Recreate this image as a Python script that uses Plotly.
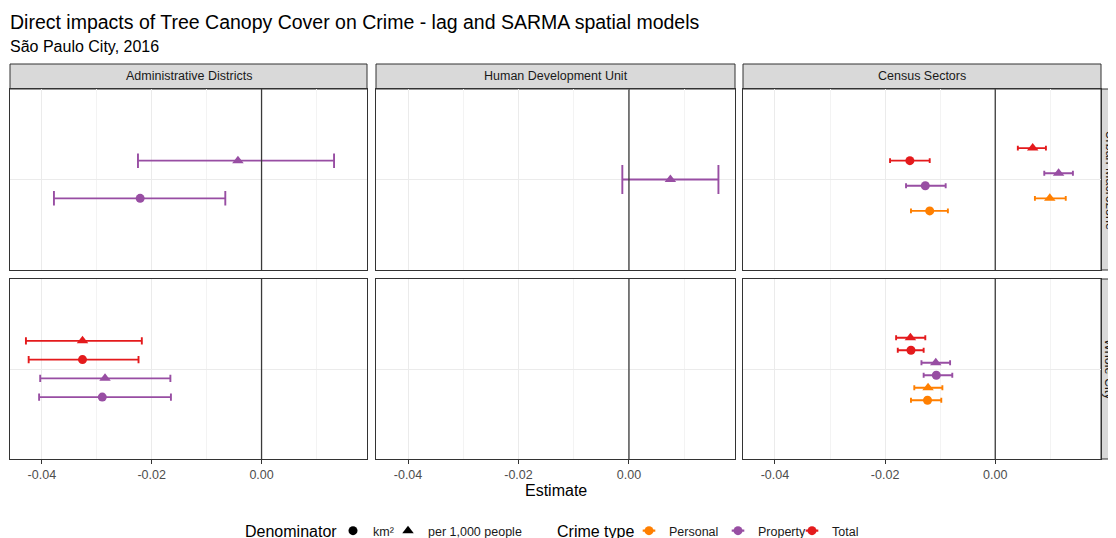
import plotly.graph_objects as go

OFF = 8  # page body margin in which the figure is placed
W, H = 1116, 538

# ---------------- data ----------------
scales = ["Administrative Districts", "Human Development Unit", "Census Sectors"]
zones = ["Urban Macrozone", "Whole City"]
crime_types = ["Personal", "Property", "Total"]
denominators = ["km²", "per 1,000 people"]

row_scale = ["Administrative Districts", "Administrative Districts",
             "Human Development Unit",
             "Census Sectors", "Census Sectors", "Census Sectors",
             "Census Sectors", "Census Sectors", "Census Sectors",
             "Administrative Districts", "Administrative Districts",
             "Administrative Districts", "Administrative Districts",
             "Census Sectors", "Census Sectors", "Census Sectors",
             "Census Sectors", "Census Sectors", "Census Sectors"]
row_zone = ["Urban Macrozone"] * 9 + ["Whole City"] * 10
row_crime = ["Property", "Property",
             "Property",
             "Personal", "Personal", "Property", "Property", "Total", "Total",
             "Property", "Property", "Total", "Total",
             "Personal", "Personal", "Property", "Property", "Total", "Total"]
row_denom = ["km²", "per 1,000 people",
             "per 1,000 people",
             "km²", "per 1,000 people", "km²", "per 1,000 people", "km²", "per 1,000 people",
             "km²", "per 1,000 people", "km²", "per 1,000 people",
             "km²", "per 1,000 people", "km²", "per 1,000 people", "km²", "per 1,000 people"]
estimate = [-0.0221, -0.0043,
            0.0075,
            -0.0119, 0.0099, -0.0127, 0.0115, -0.0155, 0.0068,
            -0.0290, -0.0285, -0.0326, -0.0326,
            -0.0123, -0.0122, -0.0107, -0.0108, -0.0153, -0.0154]
lower = [-0.0378, -0.0225,
         -0.0012,
         -0.0153, 0.0072, -0.0162, 0.0089, -0.0191, 0.0041,
         -0.0405, -0.0403, -0.0424, -0.0429,
         -0.0153, -0.0147, -0.0130, -0.0134, -0.0177, -0.0180]
upper = [-0.0066, 0.0132,
         0.0162,
         -0.0086, 0.0128, -0.0090, 0.0141, -0.0119, 0.0092,
         -0.0165, -0.0166, -0.0224, -0.0218,
         -0.0098, -0.0096, -0.0078, -0.0082, -0.0130, -0.0127]

x_ticks = [-0.04, -0.02, 0.00]
x_tick_text = ["-0.04", "-0.02", "0.00"]
x_minor = [-0.03, -0.01, 0.01]

colors = {"Personal": "#FF7F00", "Property": "#984EA3", "Total": "#E41A1C"}
symbols = {"km²": "circle", "per 1,000 people": "triangle-up"}
msize = {"km²": 9, "per 1,000 people": 10}

FONT = "Liberation Sans, Arial, sans-serif"

# ---------------- layout geometry (page pixels) ----------------
cols_px = [(10, 367), (376, 735), (743, 1101)]
rows_px = [(89, 270), (279, 459)]
strip_top = 64
strip_right = (1101, 1125)
strip_right_text_x = 1109

def px_x(p):
    return (p - OFF) / W

def px_y(p):
    return 1 - (p - OFF) / H

fig = go.Figure()
layout = dict(
    width=W, height=H, margin=dict(l=0, r=0, t=0, b=0),
    plot_bgcolor="white", paper_bgcolor="white",
    font=dict(family=FONT, color="#1A1A1A"),
    shapes=[], annotations=[],
)

xrange = [-0.0458, 0.0192]
dodge_w = 0.5

for ri, zone in enumerate(zones):
    for ci, sc in enumerate(scales):
        k = ri * 3 + ci + 1
        xa = "x" if k == 1 else f"x{k}"
        ya = "y" if k == 1 else f"y{k}"
        xl = "xaxis" if k == 1 else f"xaxis{k}"
        yl = "yaxis" if k == 1 else f"yaxis{k}"
        x0, x1 = cols_px[ci]
        y0, y1 = rows_px[ri]
        bottom = ri == 1
        layout[xl] = dict(
            domain=[px_x(x0), px_x(x1)], anchor=ya, range=xrange,
            tickvals=x_ticks, ticktext=x_tick_text,
            showticklabels=bottom, ticks="outside" if bottom else "",
            ticklen=4, tickwidth=1, tickcolor="#333333",
            tickfont=dict(size=12.5, color="#4D4D4D", family=FONT),
            showgrid=True, gridcolor="#EBEBEB", gridwidth=1,
            minor=dict(tickvals=x_minor, showgrid=True, gridcolor="#F3F3F3", gridwidth=1, ticks=""),
            showline=True, mirror=True, linecolor="#333333", linewidth=1,
            zeroline=False, fixedrange=True,
        )
        layout[yl] = dict(
            domain=[px_y(y1), px_y(y0)], anchor=xa, range=[0.4, 1.6],
            tickvals=[1], showticklabels=False, ticks="",
            showgrid=True, gridcolor="#EBEBEB", gridwidth=1,
            showline=True, mirror=True, linecolor="#333333", linewidth=1,
            zeroline=False, fixedrange=True,
        )
        # vertical reference line at 0
        layout["shapes"].append(dict(
            type="line", xref=xa, yref=f"{ya} domain", x0=0, x1=0, y0=0, y1=1,
            line=dict(color="#3A3A3A", width=1.3), layer="above"))

        # rows of this panel, ordered for dodging (bottom to top)
        idx = [i for i in range(len(estimate)) if row_scale[i] == sc and row_zone[i] == zone]
        idx.sort(key=lambda i: (crime_types.index(row_crime[i]), denominators.index(row_denom[i])))
        n = len(idx)
        if n == 0:
            continue
        cap = 14.5 / n
        for j, i in enumerate(idx):
            ypos = 1 + (j - (n - 1) / 2) * (dodge_w / n)
            c = colors[row_crime[i]]
            fig.add_trace(go.Scatter(
                x=[estimate[i]], y=[ypos], xaxis=xa, yaxis=ya, mode="markers",
                marker=dict(color=c, size=msize[row_denom[i]], symbol=symbols[row_denom[i]],
                            line=dict(width=0)),
                error_x=dict(type="data", symmetric=False,
                             array=[upper[i] - estimate[i]],
                             arrayminus=[estimate[i] - lower[i]],
                             color=c, thickness=1.9, width=cap),
                showlegend=False, hoverinfo="skip"))

# strips on top
for ci, sc in enumerate(scales):
    x0, x1 = cols_px[ci]
    layout["shapes"].append(dict(
        type="rect", xref="paper", yref="paper",
        x0=px_x(x0), x1=px_x(x1), y0=px_y(rows_px[0][0]), y1=px_y(strip_top),
        fillcolor="#D9D9D9", line=dict(color="#333333", width=1), layer="below"))
    layout["annotations"].append(dict(
        text=sc, xref="paper", yref="paper", x=px_x((x0 + x1) / 2),
        y=px_y((strip_top + rows_px[0][0]) / 2), xanchor="center", yanchor="middle",
        showarrow=False, font=dict(size=12.5, color="#1A1A1A", family=FONT)))

# strips on right
for ri, zone in enumerate(zones):
    y0, y1 = rows_px[ri]
    layout["shapes"].append(dict(
        type="rect", xref="paper", yref="paper",
        x0=px_x(strip_right[0]), x1=px_x(strip_right[1]), y0=px_y(y1), y1=px_y(y0),
        fillcolor="#D9D9D9", line=dict(color="#333333", width=1), layer="below"))
    layout["annotations"].append(dict(
        text=zone, xref="paper", yref="paper", x=px_x(strip_right_text_x),
        y=px_y((y0 + y1) / 2), xanchor="center", yanchor="middle", textangle=90,
        showarrow=False, font=dict(size=12.5, color="#1A1A1A", family=FONT)))

# titles
layout["annotations"].append(dict(
    text="Direct impacts of Tree Canopy Cover on Crime - lag and SARMA spatial models",
    xref="paper", yref="paper", x=px_x(8), y=px_y(22), xanchor="left", yanchor="middle",
    showarrow=False, font=dict(size=19.5, color="#000000", family=FONT)))
layout["annotations"].append(dict(
    text="São Paulo City, 2016", xref="paper", yref="paper", x=px_x(8), y=px_y(47),
    xanchor="left", yanchor="middle", showarrow=False,
    font=dict(size=16, color="#000000", family=FONT)))
layout["annotations"].append(dict(
    text="Estimate", xref="paper", yref="paper", x=px_x(555.5), y=px_y(490),
    xanchor="center", yanchor="middle", showarrow=False,
    font=dict(size=16, color="#000000", family=FONT)))

# legend titles
LEG_Y = 531
layout["annotations"].append(dict(
    text="Denominator", xref="paper", yref="paper", x=px_x(243), y=px_y(LEG_Y),
    xanchor="left", yanchor="middle", showarrow=False,
    font=dict(size=16, color="#000000", family=FONT)))
layout["annotations"].append(dict(
    text="Crime type", xref="paper", yref="paper", x=px_x(555), y=px_y(LEG_Y),
    xanchor="left", yanchor="middle", showarrow=False,
    font=dict(size=16, color="#000000", family=FONT)))

# legend entries: one small legend per key, placed like the reference keys
key_marker_x = {"km²": 353, "per 1,000 people": 408,
                "Personal": 649, "Property": 738, "Total": 812}
leg_font = dict(size=12.5, color="#1A1A1A", family=FONT)
n_leg = 0

def new_legend(xc):
    global n_leg
    n_leg += 1
    name = "legend" if n_leg == 1 else f"legend{n_leg}"
    layout[name] = dict(
        orientation="h", x=px_x(xc - 20), y=px_y(LEG_Y), xanchor="left",
        yanchor="middle", font=leg_font, bgcolor="rgba(0,0,0,0)", itemwidth=30)
    return name

for d in denominators:
    ln = new_legend(key_marker_x[d])
    fig.add_trace(go.Scatter(
        x=[None], y=[None], mode="markers", name=d, legend=ln,
        marker=dict(color="black", size=msize[d], symbol=symbols[d])))
for c in crime_types:
    ln = new_legend(key_marker_x[c])
    fig.add_trace(go.Scatter(
        x=[None], y=[None], mode="markers", name=c, legend=ln,
        marker=dict(color=colors[c], size=9, symbol="circle")))
    # the error-bar part of the key (point + horizontal bar)
    ln2 = new_legend(key_marker_x[c])
    fig.add_trace(go.Scatter(
        x=[None], y=[None], mode="markers", name=" ", legend=ln2,
        marker=dict(color=colors[c], size=9, symbol="line-ew-open",
                    line=dict(color=colors[c], width=2.2))))

fig.update_layout(**layout)
fig.write_html("out.html")
